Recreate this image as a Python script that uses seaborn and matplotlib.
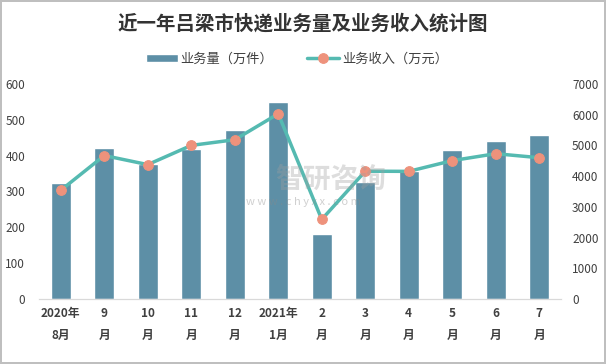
import numpy as np
import pandas as pd
import matplotlib.pyplot as plt
import seaborn as sns

sns.set_style('white')
plt.rcParams['font.family'] = ['Noto Sans CJK SC', 'DejaVu Sans']

# --- Datos ---
meses = ['2020年\n8月', '9\n月', '10\n月', '11\n月', '12\n月', '2021年\n1月',
         '2\n月', '3\n月', '4\n月', '5\n月', '6\n月', '7\n月']
volumen = [324, 421, 377, 418, 471, 549, 182, 327, 358, 416, 441, 457]        # 万件
ingresos = [3540, 4670, 4375, 5000, 5185, 6030, 2590, 4160, 4155, 4505, 4730, 4600]  # 万元

COLOR_BAR = '#5d8fa6'
COLOR_LINE = '#55bab1'
COLOR_MARK = '#ee927c'
COLOR_TXT = '#404040'

df = pd.DataFrame({'mes': meses, 'volumen': volumen, 'ingresos': ingresos})
df['pos'] = np.arange(len(df))

fig = plt.figure(figsize=(6.06, 3.64), dpi=100)
fig.patch.set_edgecolor('#bfbfbf')
fig.patch.set_linewidth(1.5)
ax = fig.add_axes([0.0644, 0.1786, 0.8613, 0.5907])

sns.barplot(data=df, x='mes', y='volumen', color=COLOR_BAR, width=0.46,
            saturation=1, ax=ax, label='业务量（万件）', legend=False)
ax.set_ylim(0, 600)
ax.set_yticks(range(0, 601, 100))
ax.set_xlim(-0.5, len(df) - 0.5)

ax2 = ax.twinx()
sns.lineplot(data=df, x='pos', y='ingresos', color=COLOR_LINE, linewidth=2.5,
             marker='o', markersize=7, markerfacecolor=COLOR_MARK,
             markeredgecolor=COLOR_MARK, ax=ax2, label='业务收入（万元）')
ax2.set_ylim(0, 7000)
ax2.set_yticks(range(0, 7001, 1000))
ax2.set_xlim(-0.5, len(df) - 0.5)

for a in (ax, ax2):
    a.set_xlabel('')
    a.set_ylabel('')
    for s in ['top', 'left', 'right']:
        a.spines[s].set_visible(False)
    a.spines['bottom'].set_color('#d9d9d9')
    a.tick_params(length=0, labelsize=8.5, colors=COLOR_TXT)

ax.tick_params(axis='y', pad=10)
ax2.tick_params(axis='y', pad=8)
ax.set_xticks(df['pos'])
ax.set_xticklabels(meses, fontsize=8.5, fontweight='bold', linespacing=1.9,
                   color=COLOR_TXT)
ax.tick_params(axis='x', pad=6)

# leyenda combinada
h1, l1 = ax.get_legend_handles_labels()
h2, l2 = ax2.get_legend_handles_labels()
if ax.get_legend() is not None:
    ax.get_legend().remove()
ax2.get_legend().remove()
fig.legend(h1 + h2, l1 + l2, loc='center', bbox_to_anchor=(0.49, 0.838), ncol=2,
           frameon=False, fontsize=9.5, handlelength=2.4, handleheight=0.6,
           columnspacing=2.6, handletextpad=0.2, labelcolor=COLOR_TXT)

fig.text(0.5, 0.935, '近一年吕梁市快递业务量及业务收入统计图', ha='center', va='center',
         fontsize=14, fontweight='bold', color='#333333')

# marca de agua
fig.text(0.545, 0.505, '智研咨询', ha='center', va='center', fontsize=20,
         color='#a0a0a0', alpha=0.35, fontweight='bold')
fig.text(0.5, 0.445, 'w w w . c h y x x . c o m', ha='center', va='center',
         fontsize=8, color='#8a8a8a', alpha=0.4)

fig.savefig('out.png', dpi=100)
plt.close(fig)
